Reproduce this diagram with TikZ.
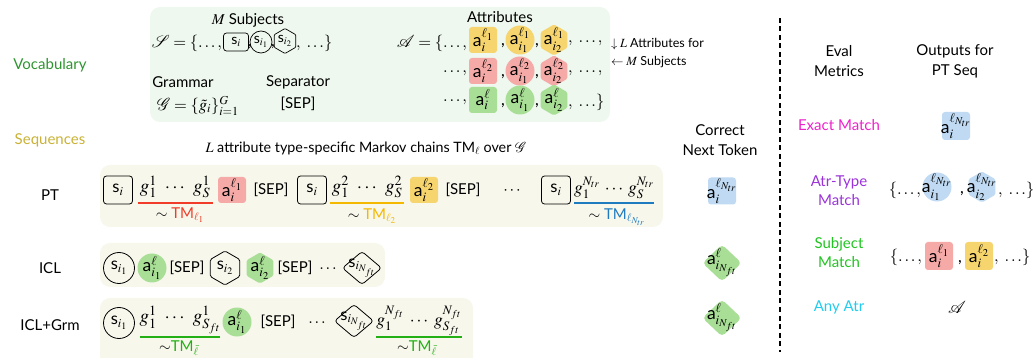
\documentclass[tikz,border=0pt]{standalone}
\IfFileExists{mathptmx.sty}{\usepackage{mathptmx}}{}
\IfFileExists{mathrsfs.sty}{\usepackage{mathrsfs}}{\newcommand{\mathscr}{\mathcal}}
\usepackage[no-math]{fontspec}
\setmainfont{Lato}
\usetikzlibrary{shapes.geometric}

\definecolor{vocfill}{HTML}{EEF8EE}
\definecolor{seqfill}{HTML}{F7F7EC}
\definecolor{atyel}{HTML}{F6D46E}
\definecolor{atred}{HTML}{F5AAA8}
\definecolor{atgrn}{HTML}{A8DE95}
\definecolor{atblu}{HTML}{BFDAF2}
\definecolor{vocgreen}{HTML}{2E9430}
\definecolor{seqgold}{HTML}{C9B236}
\definecolor{tmred}{HTML}{F03C28}
\definecolor{tmyel}{HTML}{F5B800}
\definecolor{tmblue}{HTML}{1F7BC0}
\definecolor{tmgrn}{HTML}{22B014}
\definecolor{exmag}{HTML}{EE22CC}
\definecolor{atpur}{HTML}{9B33D8}
\definecolor{subgrn}{HTML}{22C422}
\definecolor{anycyan}{HTML}{22CCEE}

% subject and attribute tokens
\newcommand{\stok}[1]{s$_{#1}$}
\newcommand{\atok}[2]{a$^{#2}_{#1}$}
% a run of grammar tokens
\newcommand{\grun}[4]{$g_{#1}^{#2}\hspace{6pt}\cdots\hspace{6pt}g_{#3}^{#4}$}

\begin{document}
\begin{tikzpicture}[x=1pt,y=-1pt,
  font=\fontsize{15}{18}\selectfont,
  every node/.style={inner sep=0pt, outer sep=0pt},
  panel/.style={rounded corners=10pt},
  tk/.style={label={[inner sep=0pt, font=\fontsize{17.5}{20}\selectfont]center:#1}},
  stk/.style={label={[inner sep=0pt, font=\fontsize{16.5}{19}\selectfont]center:#1}},
  vtk/.style={label={[inner sep=0pt, font=\fontsize{14}{16}\selectfont]center:#1}},
  mth/.style={font=\fontsize{16.5}{19}\selectfont},
  sbox/.style={draw, rounded corners=3pt, line width=0.8pt, minimum width=29pt, minimum height=28pt},
  scirc/.style={draw, circle, line width=0.8pt, minimum size=31pt},
  shex/.style={draw, regular polygon, regular polygon sides=6, shape border rotate=30, rounded corners=1.5pt, line width=0.8pt, minimum size=34pt},
  sdia/.style={draw, diamond, rounded corners=3pt, line width=0.8pt, minimum width=39pt, minimum height=33pt},
  vsbox/.style={draw, rounded corners=3pt, line width=0.7pt, minimum width=25pt, minimum height=18pt},
  vscirc/.style={draw, circle, line width=0.7pt, minimum size=22pt},
  vshex/.style={draw, regular polygon, regular polygon sides=6, shape border rotate=30, rounded corners=1pt, line width=0.7pt, minimum size=25pt},
  abox/.style={rounded corners=3pt, minimum width=28pt, minimum height=26pt},
  acirc/.style={circle, minimum size=29pt},
  ahex/.style={regular polygon, regular polygon sides=6, shape border rotate=30, rounded corners=1.5pt, minimum size=31pt},
  adia/.style={diamond, rounded corners=4pt, minimum width=39pt, minimum height=37pt},
  gseq/.style={font=\fontsize{19}{22}\selectfont},
  gseqn/.style={font=\fontsize{17.5}{20}\selectfont},
  ul/.style={line width=1.6pt},
  note/.style={font=\fontsize{12.5}{15}\selectfont, anchor=west},
]
\useasboundingbox (0,0) rectangle (1034,358);

% ---------------- vocabulary ----------------
\fill[vocfill, panel] (150,7) rectangle (610,122);
\node[text=vocgreen] (lvoc) at (50,65) {Vocabulary};

\node (msub) at (248,20) {$M$ Subjects};
\node[mth, anchor=east] (sset) at (222,43) {$\mathscr{S}=\{\ldots,$};
\node[vsbox, vtk={\stok{i}}] (vs1) at (236,42) {};
\node[mth] (vc1) at (250,47) {,};
\node[vscirc, vtk={\stok{i_1}}] (vs2) at (261,42) {};
\node[mth] (vc2) at (273,47) {,};
\node[vshex, vtk={\stok{i_2}}] (vs3) at (285,41) {};
\node[mth, anchor=west] (send) at (296,43) {$,\ \ldots\}$};

\node (gram) at (183,82) {Grammar};
\node (sepl) at (298,82) {Separator};
\node[mth, anchor=west] (gset) at (157,106) {$\mathscr{G}=\{\tilde g_i\}_{i=1}^{G}$};
\node (sepv) at (298,104) {[SEP]};

\node (attl) at (500,17) {Attributes};
\node[mth, anchor=east] (aset1) at (467,43) {$\mathscr{A}=\{\ldots,$};
\node[mth, anchor=east] (aset2) at (467,73) {$\ldots,$};
\node[mth, anchor=east] (aset3) at (467,102) {$\ldots,$};

\node[abox, fill=atyel, tk={\atok{i}{\ell_1}}] (ay1) at (483,40) {};
\node[acirc, fill=atyel, tk={\atok{i_1}{\ell_1}}] (ay2) at (520,40) {};
\node[ahex, fill=atyel, tk={\atok{i_2}{\ell_1}}] (ay3) at (554,40) {};
\node[abox, fill=atred, tk={\atok{i}{\ell_2}}] (ar1) at (483,71) {};
\node[acirc, fill=atred, tk={\atok{i_1}{\ell_2}}] (ar2) at (520,71) {};
\node[ahex, fill=atred, tk={\atok{i_2}{\ell_2}}] (ar3) at (554,71) {};
\node[abox, fill=atgrn, tk={\atok{i}{\ell}}] (ag1) at (483,100) {};
\node[acirc, fill=atgrn, tk={\atok{i_1}{\ell}}] (ag2) at (520,100) {};
\node[ahex, fill=atgrn, tk={\atok{i_2}{\ell}}] (ag3) at (554,100) {};
\foreach \r/\y in {1/46,2/77,3/106}{
  \node[mth] (ac\r a) at (503,\y) {,};
  \node[mth] (ac\r b) at (537,\y) {,};
}
\node[mth, anchor=west] (aend1) at (568,43) {$,\ \ldots,$};
\node[mth, anchor=west] (aend2) at (568,73) {$,\ \ldots,$};
\node[mth, anchor=west] (aend3) at (568,102) {$,\ \ldots\}$};

\node[note] (n1) at (611,44) {$\downarrow L$ Attributes for};
\node[note] (n2) at (611,62) {$\leftarrow M$ Subjects};

% ---------------- sequences ----------------
\node[text=seqgold] (lseq) at (50,140) {Sequences};
\node[font=\fontsize{14.3}{17}\selectfont] (cap) at (366,148) {$L$ attribute type-specific Markov chains TM$_{\ell}$ over $\mathscr{G}$};

% PT
\fill[seqfill, panel] (100,165) rectangle (663,227);
\node (lpt) at (50,195) {PT};
\node[sbox, stk={\stok{i}}] (p1) at (118,190) {};
\node[gseq, minimum width=75pt] (g1) at (175,187) {\grun{1}{1}{S}{1}};
\draw[ul, tmred] ([yshift=-16pt]g1.west) -- ([yshift=-16pt]g1.east);
\node (t1) at (180,215) {$\sim$ \textcolor{tmred}{TM$_{\ell_1}$}};
\node[abox, fill=atred, tk={\atok{i}{\ell_1}}] (pa1) at (232,190) {};
\node (ps1) at (271,190) {[SEP]};
\node[sbox, stk={\stok{i}}] (p2) at (312,190) {};
\node[gseq, minimum width=74pt] (g2) at (367,187) {\grun{1}{2}{S}{2}};
\draw[ul, tmyel] ([yshift=-16pt]g2.west) -- ([yshift=-16pt]g2.east);
\node (t2) at (372,216) {$\sim$ \textcolor{tmyel}{TM$_{\ell_2}$}};
\node[abox, fill=atyel, tk={\atok{i}{\ell_2}}] (pa2) at (424,190) {};
\node (ps2) at (463,190) {[SEP]};
\node[mth] (pdots) at (512,191) {$\cdots$};
\node[sbox, stk={\stok{i}}] (p3) at (556,190) {};
\node[gseqn, minimum width=78pt] (g3) at (614,188) {$g_1^{N_{tr}}\hspace{3pt}\cdots\hspace{3pt}g_S^{N_{tr}}$};
\draw[ul, tmblue] ([yshift=-15pt]g3.west) -- ([yshift=-15pt]g3.east);
\node (t3) at (617,217) {$\sim$ \textcolor{tmblue}{TM$_{\ell_{N_{tr}}}$}};

% ICL
\fill[seqfill, panel] (100,243) rectangle (385,287);
\node (licl) at (50,268) {ICL};
\node[scirc, stk={\stok{i_1}}] (i1) at (119,268) {};
\node[acirc, fill=atgrn, tk={\atok{i_1}{\ell}}] (ia1) at (152,268) {};
\node (is1) at (187,268) {[SEP]};
\node[shex, stk={\stok{i_2}}] (i2) at (225,268) {};
\node[ahex, fill=atgrn, tk={\atok{i_2}{\ell}}] (ia2) at (260,268) {};
\node (is2) at (295,268) {[SEP]};
\node[mth] (idots) at (328,269) {$\ldots$};
\node[sdia, stk={\stok{i_{N_{ft}}}}] (i3) at (362,268) {};

% ICL+Grm
\fill[seqfill, panel] (100,298) rectangle (473,372);
\node (lgrm) at (50,325) {ICL+Grm};
\node[scirc, stk={\stok{i_1}}] (k1) at (119,323) {};
\node[gseq, minimum width=75pt] (kg1) at (180,320) {\grun{1}{1}{S_{ft}}{1}};
\draw[ul, tmgrn] ([yshift=-17pt]kg1.west) -- ([yshift=-17pt]kg1.east);
\node (kt1) at (179,348) {$\sim$\textcolor{tmgrn}{TM$_{\bar\ell}$}};
\node[acirc, fill=atgrn, tk={\atok{i_1}{\ell}}] (ka1) at (237,322) {};
\node (ks1) at (278,322) {[SEP]};
\node[mth] (kdots) at (317,323) {$\ldots$};
\node[sdia, stk={\stok{i_{N_{ft}}}}] (k2) at (354,321) {};
\node[gseqn, minimum width=80pt] (kg2) at (419,321) {$g_1^{N_{ft}}\hspace{4pt}\cdots\hspace{4pt}g_{S_{ft}}^{N_{ft}}$};
\draw[ul, tmgrn] ([yshift=-16pt]kg2.west) -- ([yshift=-16pt]kg2.east);
\node (kt2) at (417,348) {$\sim$\textcolor{tmgrn}{TM$_{\bar\ell}$}};

% correct next tokens
\node[align=center] (cnt) at (720,140) {Correct\\[2pt]Next Token};
\node[abox, minimum height=27pt, fill=atblu, tk={\atok{i}{\ell_{N_{tr}}}}] (c1) at (722,191) {};
\node[adia, fill=atgrn, tk={\atok{i_{N_{ft}}}{\ell}}] (c2) at (722,263) {};
\node[adia, fill=atgrn, tk={\atok{i_{N_{ft}}}{\ell}}] (c3) at (722,318) {};

% divider
\coordinate (dtop) at (780,18);
\coordinate (dbot) at (780,352);
\draw[line width=2pt, dash pattern=on 5pt off 3.5pt] (dtop) -- (dbot);

% ---------------- evaluation ----------------
\node[align=center] (em) at (839,61) {Eval\\[2pt]Metrics};
\node[align=center] (outp) at (955,61) {Outputs for\\[2pt]PT Seq};

\node[text=exmag] (r1) at (839,125) {Exact Match};
\node[abox, minimum height=28pt, fill=atblu, tk={\atok{i}{\ell_{N_{tr}}}}] (r1v) at (956,126) {};

\node[align=center, text=atpur] (r2) at (839,191) {Atr-Type\\[1pt]Match};
\node[mth, anchor=east] (r2a) at (921,190) {$\{\ldots,$};
\node[acirc, fill=atblu, tk={\atok{i_1}{\ell_{N_{tr}}}}] (r2b) at (937,187) {};
\node[mth] (r2c) at (962,194) {,};
\node[ahex, fill=atblu, tk={\atok{i_2}{\ell_{N_{tr}}}}] (r2d) at (982,187) {};
\node[mth, anchor=west] (r2e) at (998,190) {$,\ \ldots\}$};

\node[align=center, text=subgrn] (r3) at (839,253) {Subject\\[1pt]Match};
\node[mth, anchor=east] (r3a) at (922,257) {$\{\ldots,$};
\node[abox, minimum height=28pt, fill=atred, tk={\atok{i}{\ell_1}}] (r3b) at (939,256) {};
\node[mth] (r3c) at (960,263) {,};
\node[abox, minimum height=28pt, fill=atyel, tk={\atok{i}{\ell_2}}] (r3d) at (979,256) {};
\node[mth, anchor=west] (r3e) at (994,257) {$,\ \ldots\}$};

\node[text=anycyan] (r4) at (839,307) {Any Atr};
\node[mth] (r4v) at (957,307) {$\mathscr{A}$};
\end{tikzpicture}
\end{document}
